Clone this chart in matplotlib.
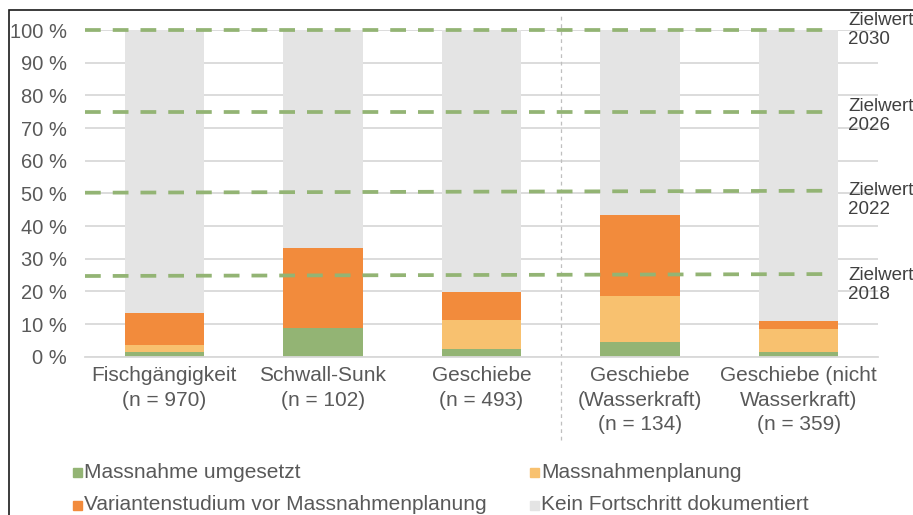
import matplotlib.pyplot as plt
from matplotlib.patches import Rectangle

plt.rcParams['font.family'] = ['Liberation Sans', 'DejaVu Sans']

# data (percent of total)
categories = ['Fischgängigkeit\n(n = 970)', 'Schwall-Sunk\n(n = 102)', 'Geschiebe\n(n = 493)',
              'Geschiebe\n(Wasserkraft)\n(n = 134)', 'Geschiebe (nicht\nWasserkraft)\n(n = 359)']
umgesetzt = [1.5, 8.9, 2.4, 4.4, 1.5]
planung = [2.1, 0.0, 8.8, 14.2, 7.0]
variantenstudium = [9.7, 24.4, 8.7, 24.7, 2.5]
series_names = ['Massnahme umgesetzt', 'Massnahmenplanung',
                'Variantenstudium vor Massnahmenplanung', 'Kein Fortschritt dokumentiert']
colors = ['#93B474', '#F8C16F', '#F28B3C', '#E4E4E4']

ziel_labels = ['Zielwert\n2018', 'Zielwert\n2022', 'Zielwert\n2026', 'Zielwert\n2030']
ziel_start = [24.7, 50.2, 75.0, 100.0]
ziel_end = [25.3, 50.8, 75.0, 100.0]
ziel_text_y = [22.0, 48.0, 73.7, 100.0]

kein = [100 - a - b - c for a, b, c in zip(umgesetzt, planung, variantenstudium)]

fig = plt.figure(figsize=(9.13, 5.15), dpi=100)
ax = fig.add_axes([0.0931, 0.3074, 0.8686, 0.6343])

x = list(range(len(categories)))
bottom = [0.0] * len(x)
for vals, col in zip([umgesetzt, planung, variantenstudium, kein], colors):
    ax.bar(x, vals, width=0.5, bottom=bottom, color=col, zorder=2)
    bottom = [b + v for b, v in zip(bottom, vals)]

# target lines
for ys, ye, lab, ty in zip(ziel_start, ziel_end, ziel_labels, ziel_text_y):
    ax.plot([-0.5, 4.22], [ys, ye], color='#93B474', lw=2.7,
            linestyle=(0, (4.2, 3.2)), zorder=3, clip_on=False)
    ax.text(4.31, ty, lab, ha='left', va='center', fontsize=13.5,
            color='#404040', linespacing=1.2, clip_on=False)

# separator between groups
ax.plot([2.5, 2.5], [-25.5, 104.6], color='#BFBFBF', lw=0.9,
        linestyle=(0, (3, 3)), clip_on=False, zorder=1)

ax.set_xlim(-0.5, 4.5)
ax.set_ylim(0, 100)
ax.set_yticks(range(0, 101, 10))
ax.set_yticklabels([f'{v} %' for v in range(0, 101, 10)], fontsize=14.5, color='#595959')
ax.set_xticks(x)
ax.set_xticklabels(categories, fontsize=15, color='#595959', linespacing=1.35, va='top')
ax.tick_params(axis='both', length=0)
ax.tick_params(axis='y', pad=13)
ax.tick_params(axis='x', pad=7)
ax.grid(axis='y', color='#D9D9D9', lw=1.3, zorder=0)
ax.set_axisbelow(True)
for s in ['top', 'right', 'left']:
    ax.spines[s].set_visible(False)
ax.spines['bottom'].set_color('#D9D9D9')
ax.spines['bottom'].set_linewidth(1.3)

# legend drawn by hand in two columns
leg_pos = [(73, 472), (530, 472), (73, 505), (530, 505)]
for (px, py), name, col in zip(leg_pos, series_names, colors):
    fig.patches.append(Rectangle((px / 913, 1 - (py + 4.5) / 515), 9 / 913, 9 / 515,
                                 transform=fig.transFigure, color=col))
    fig.text((px + 11) / 913, 1 - py / 515, name, fontsize=15, color='#595959',
             ha='left', va='center')

# outer frame (cropped at right and bottom)
fig.patches.append(Rectangle((9 / 913, -0.2), 1.2, 1.2 - 10 / 515, transform=fig.transFigure,
                             fill=False, edgecolor='#1a1a1a', lw=1.2))

fig.savefig('out.png', dpi=100)
